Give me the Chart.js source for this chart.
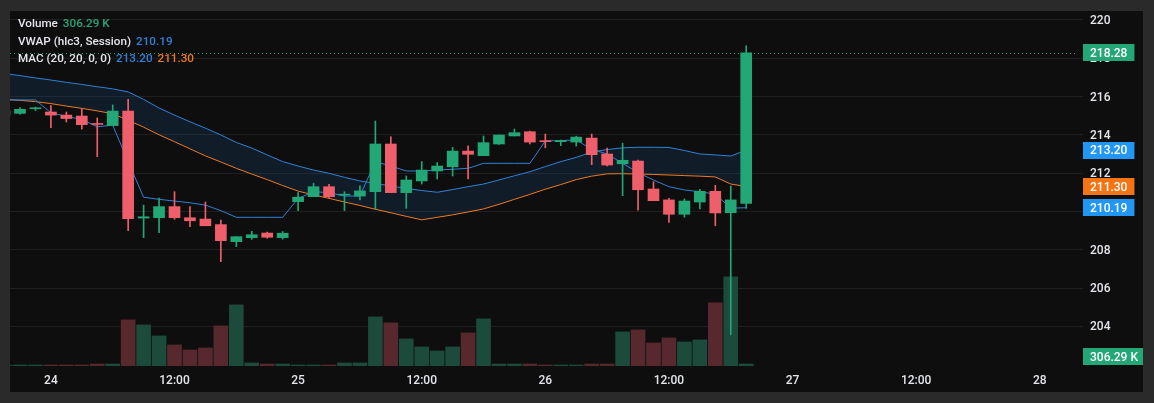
<!DOCTYPE html>
<html>
<head>
    <title>Hourly candles with VWAP and MAC</title>
    <script src="https://cdn.jsdelivr.net/npm/chart.js"></script>
    <style>
        html, body { margin: 0; padding: 0; background: #2a2a2a; }
        body { width: 1154px; height: 403px; position: relative; overflow: hidden; font-family: Roboto, Arial, sans-serif; }
        .pane { position: absolute; left: 10px; top: 11px; width: 1133px; height: 381px; background: #0e0e0e; }
        .legend { position: absolute; left: 18px; top: 15px; font-size: 11.7px; font-weight: 500; color: #e4e6ec; line-height: 17.5px; white-space: nowrap; }
        .legend span { margin-left: 5px; }
    </style>
</head>
<body>
    <div class="pane"><canvas id="priceChart"></canvas></div>
    <div class="legend" id="legend"></div>

    <script>
        // hourly bars, index 0 is the partly hidden bar at the left edge
        const opens  = [215.03, 215.12, 215.36, 215.19, 215.03, 214.98, 214.58, 214.48, 215.24, 209.65,
                        209.67, 210.25, 209.67, 209.60, 209.31, 208.42, 208.63, 208.87, 208.63, 210.51,
                        210.77, 211.29, 210.85, 210.80, 211.03, 213.52, 210.98, 211.59, 212.11, 212.33,
                        213.15, 212.91, 213.52, 213.94, 214.16, 213.68, 213.64, 213.62, 213.83, 213.00,
                        212.49, 212.63, 211.17, 210.60, 209.85, 210.49, 211.05, 209.93, 210.42];
        const highs  = [215.30, 215.42, 215.45, 215.52, 215.19, 215.38, 214.88, 215.56, 215.85, 210.33,
                        210.70, 211.03, 210.25, 210.49, 209.55, 208.68, 208.96, 208.92, 208.95, 210.98,
                        211.47, 211.42, 211.03, 211.33, 214.72, 213.90, 211.85, 212.60, 212.55, 213.35,
                        213.42, 213.94, 213.99, 214.30, 214.20, 214.04, 213.73, 213.93, 214.04, 213.31,
                        213.56, 212.68, 211.55, 210.68, 210.65, 211.15, 211.36, 211.33, 218.65];
        const lows   = [215.00, 215.08, 215.27, 214.37, 214.67, 214.30, 212.86, 214.48, 209.00, 208.63,
                        208.89, 209.59, 209.20, 209.25, 207.37, 208.16, 208.54, 208.60, 208.55, 210.04,
                        210.77, 210.72, 210.04, 210.60, 210.12, 210.98, 210.16, 211.43, 211.69, 211.85,
                        211.69, 212.91, 213.50, 213.94, 213.52, 213.32, 213.43, 213.41, 212.44, 212.37,
                        210.82, 210.07, 210.56, 209.43, 209.70, 210.13, 209.25, 203.55, 210.16];
        const closes = [215.26, 215.33, 215.39, 215.03, 214.85, 214.53, 214.54, 215.24, 209.62, 209.72,
                        210.25, 209.67, 209.51, 209.25, 208.47, 208.68, 208.78, 208.65, 208.86, 210.74,
                        211.29, 210.77, 210.90, 211.07, 213.52, 210.98, 211.64, 212.16, 212.37, 213.15,
                        212.98, 213.59, 213.99, 214.11, 213.62, 213.64, 213.70, 213.88, 212.96, 212.42,
                        212.67, 211.13, 210.56, 209.85, 210.54, 211.05, 209.92, 210.60, 218.28];
        // volume in thousands
        const volumes = [150, 150, 150, 150, 150, 150, 300, 300, 7015, 6250,
                         4580, 3200, 2440, 2750, 6100, 9300, 460, 300, 300, 150,
                         150, 150, 460, 460, 7470, 6560, 4120, 2900, 2290, 2900,
                         5030, 7170, 300, 300, 300, 150, 150, 150, 300, 300,
                         5190, 5490, 3510, 4270, 3660, 3970, 9610, 13570, 306.29];
        const vwap = [215.82, 215.82, 215.82, 215.15, 214.96, 214.80, 214.42, 214.50, 212.60, 210.74,
                      210.63, 210.54, 210.45, 210.33, 210.04, 209.69, 209.69, 209.69, 209.69, 210.68,
                      211.03, 210.98, 210.80, 210.80, 212.60, 212.37, 212.11, 212.11, 212.16, 212.20,
                      212.25, 212.51, 212.51, 212.51, 212.51, 213.68, 213.70, 213.73, 213.24, 213.00,
                      212.51, 212.02, 211.64, 211.29, 211.12, 211.03, 210.90, 210.17, 210.19];
        const macUpper = [217.20, 217.09, 216.97, 216.86, 216.74, 216.63, 216.51, 216.40, 216.24, 215.85,
                          215.40, 215.03, 214.68, 214.35, 213.99, 213.60, 213.31, 212.95, 212.60, 212.37,
                          212.16, 211.99, 211.78, 211.59, 211.46, 211.33, 211.20, 211.09, 211.00, 211.14,
                          211.29, 211.43, 211.64, 211.86, 212.07, 212.34, 212.60, 212.82, 213.10, 213.23,
                          213.32, 213.35, 213.35, 213.34, 213.18, 213.00, 212.95, 212.89, 213.20];
        const macLower = [215.85, 215.80, 215.73, 215.63, 215.50, 215.38, 215.25, 215.10, 214.76, 214.40,
                          214.00, 213.64, 213.27, 212.90, 212.58, 212.25, 211.95, 211.66, 211.35, 211.06,
                          210.86, 210.68, 210.49, 210.31, 210.11, 209.93, 209.74, 209.56, 209.69, 209.82,
                          209.97, 210.13, 210.37, 210.63, 210.89, 211.16, 211.40, 211.66, 211.84, 211.96,
                          211.97, 211.95, 211.93, 211.90, 211.87, 211.84, 211.80, 211.43, 211.30];

        // time axis: bar index of each label
        const timeTickIdx = [3, 11, 19, 27, 35, 43, 51, 59, 67];
        const timeTickLabels = ['24', '12:00', '25', '12:00', '26', '12:00', '27', '12:00', '28'];
        const priceTicks = [204, 206, 208, 210, 212, 214, 216, 218, 220];

        const GREEN = '#23a776', RED = '#ef5f6b';
        const BLUE = '#2f82d8', ORANGE = '#ef7a22';
        const TEXT = '#e4e6ec';
        const AXIS_FONT = { family: 'Roboto', size: 12, weight: '500' };
        const CANVAS_FONT = '500 12px Roboto, Arial, sans-serif';

        const last = closes.length - 1;
        const up = closes.map((c, i) => c >= opens[i]);
        const candleColors = up.map(u => u ? GREEN : RED);
        const volColors = up.map(u => u ? '#1c4a3b' : '#57292f');
        const pts = arr => arr.map((v, i) => ({ x: i, y: v }));

        const fmtVol = v => v.toFixed(2) + ' K';

        document.getElementById('legend').innerHTML =
            '<div>Volume<span style="color:' + GREEN + '">' + fmtVol(volumes[last]) + '</span></div>' +
            '<div>VWAP (hlc3, Session)<span style="color:' + BLUE + '">' + vwap[last].toFixed(2) + '</span></div>' +
            '<div>MAC (20, 20, 0, 0)<span style="color:' + BLUE + '">' + macUpper[last].toFixed(2) +
            '</span><span style="color:' + ORANGE + '">' + macLower[last].toFixed(2) + '</span></div>';

        function box(ctx, y, text, bg, right) {
            ctx.font = CANVAS_FONT;
            const w = ctx.measureText(text).width + 14;
            ctx.fillStyle = bg;
            ctx.fillRect(right + 8, Math.round(y - 8.5), w, 17);
            ctx.fillStyle = '#ffffff';
            ctx.textBaseline = 'middle';
            ctx.textAlign = 'left';
            ctx.fillText(text, right + 15, y + 1);
        }

        const overlay = {
            id: 'overlay',
            beforeDatasetsDraw(chart) {
                const { ctx, chartArea } = chart;
                const y = Math.round(chart.scales.y.getPixelForValue(closes[last])) + 0.5;
                ctx.save();
                ctx.strokeStyle = GREEN;
                ctx.lineWidth = 1;
                ctx.setLineDash([1, 3]);
                ctx.beginPath();
                ctx.moveTo(chartArea.left, y);
                ctx.lineTo(chartArea.right, y);
                ctx.stroke();
                ctx.restore();
            },
            afterDraw(chart) {
                const { ctx, chartArea } = chart;
                const ys = chart.scales.y, yv = chart.scales.yv;
                ctx.save();
                // price axis labels, centred on their grid lines
                ctx.font = CANVAS_FONT;
                ctx.fillStyle = TEXT;
                ctx.textBaseline = 'middle';
                ctx.textAlign = 'left';
                priceTicks.forEach(v => ctx.fillText(String(v), chartArea.right + 15, ys.getPixelForValue(v) + 1));
                // last value tags
                box(ctx, ys.getPixelForValue(closes[last]), closes[last].toFixed(2), GREEN, chartArea.right);
                box(ctx, ys.getPixelForValue(macUpper[last]), macUpper[last].toFixed(2), '#2196f3', chartArea.right);
                box(ctx, ys.getPixelForValue(macLower[last]), macLower[last].toFixed(2), '#f57414', chartArea.right);
                box(ctx, ys.getPixelForValue(vwap[last]), vwap[last].toFixed(2), '#2196f3', chartArea.right);
                const vy = Math.min(yv.getPixelForValue(volumes[last]), chartArea.bottom - 9.5);
                box(ctx, vy, fmtVol(volumes[last]), GREEN, chartArea.right);
                ctx.restore();
            }
        };

        const ctx = document.getElementById('priceChart').getContext('2d');
        new Chart(ctx, {
            type: 'bar',
            data: {
                datasets: [
                    { type: 'bar', data: pts(volumes), yAxisID: 'yv', backgroundColor: volColors,
                      barThickness: 14, grouped: false, order: 10 },
                    { type: 'line', data: pts(macUpper), borderColor: BLUE, borderWidth: 1, pointRadius: 0,
                      fill: false, order: 5 },
                    { type: 'line', data: pts(macLower), borderColor: ORANGE, borderWidth: 1, pointRadius: 0,
                      fill: '-1', backgroundColor: 'rgba(33,150,243,0.11)', order: 5 },
                    { type: 'line', data: pts(vwap), borderColor: BLUE, borderWidth: 1, pointRadius: 0,
                      fill: false, order: 4 },
                    { type: 'bar', data: lows.map((l, i) => ({ x: i, y: [l, highs[i]] })),
                      backgroundColor: candleColors, barThickness: 1, grouped: false, order: 2 },
                    { type: 'bar', data: opens.map((o, i) => ({ x: i, y: [o, closes[i]] })),
                      backgroundColor: candleColors, barThickness: 11, minBarLength: 1, grouped: false, order: 1 }
                ]
            },
            options: {
                responsive: true,
                maintainAspectRatio: false,
                animation: false,
                layout: { padding: 0 },
                plugins: { legend: { display: false }, tooltip: { enabled: false } },
                scales: {
                    x: {
                        type: 'linear', offset: false,
                        min: 0.353, max: 69.28,
                        grid: { display: false, drawTicks: false },
                        border: { display: false },
                        afterBuildTicks: s => { s.ticks = timeTickIdx.map(v => ({ value: v })); },
                        afterFit: s => { s.height = 26; s.paddingLeft = 0; s.paddingRight = 0; },
                        ticks: {
                            color: TEXT, padding: 8, maxRotation: 0, autoSkip: false,
                            font: AXIS_FONT,
                            callback: v => timeTickLabels[timeTickIdx.indexOf(v)]
                        }
                    },
                    y: {
                        position: 'right',
                        min: 201.927, max: 220.465,
                        grid: { color: 'rgba(255,255,255,0.07)', tickLength: 8 },
                        border: { display: false },
                        afterBuildTicks: s => { s.ticks = priceTicks.map(v => ({ value: v })); },
                        afterFit: s => { s.width = 68; s.paddingTop = 0; s.paddingBottom = 0; },
                        ticks: { display: false }
                    },
                    yv: { display: false, min: 0, max: 54000 }
                }
            },
            plugins: [overlay]
        });
    </script>
</body>
</html>
